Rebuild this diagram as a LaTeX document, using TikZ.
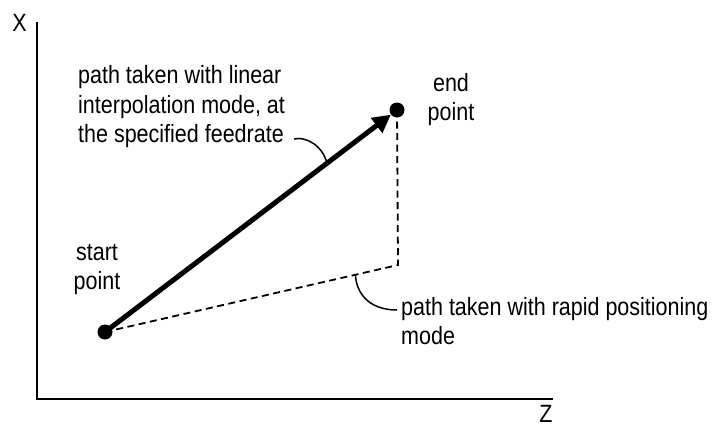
\documentclass[tikz,border=0pt]{standalone}
\usepackage{fontspec}
\setmainfont{Liberation Sans}[FakeStretch=0.86]
\usetikzlibrary{arrows.meta,calc}

\begin{document}
\begin{tikzpicture}[x=1pt,y=-1pt,
  ptdot/.style={circle,fill,inner sep=0pt,minimum size=15pt},
  txt/.style={font=\fontsize{25}{29.5}\selectfont,inner sep=0pt},
  leader/.style={line width=1.5pt}]
\useasboundingbox (0,0) rectangle (714,428);
\coordinate (xtop) at (37,22);
\coordinate (origin) at (37,399);
\coordinate (zend) at (553,399);
\draw[line width=2pt] (xtop) -- (origin) -- (zend);
\node[txt] (xlbl) at (19.5,22.5) {X};
\node[txt] (zlbl) at (546,414) {Z};
\node[ptdot] (start) at (105,332) {};
\node[ptdot] (end) at (397,110) {};
\coordinate (corner) at (398,265);
\draw[line width=1.8pt,dash pattern=on 7pt off 4.5pt] (start.center) -- (corner) -- (end.center);
\draw[line width=5pt,-{Triangle[length=18pt,width=18pt]}] (start.center) -- (end);
\node[txt,align=center,anchor=north] (startlbl) at (97,244) {start\\point};
\node[txt,align=center,anchor=north] (endlbl) at (451,73) {end\\point};
\node[txt,align=left,anchor=north west] (linlbl) at (78,65.5) {path taken with linear\\interpolation mode, at\\the specified feedrate};
\node[txt,align=left,anchor=north west] (rapidlbl) at (401,297) {path taken with rapid positioning\\mode};
\coordinate (linfrom) at (294,139);
\coordinate (linhit) at ($(start)!0.76!(end)$);
\coordinate (rapidhit) at ($(start)!0.855!(corner)$);
\coordinate (rapidto) at (397,310);
\draw[leader] (linfrom) .. controls (306,136) and (323,146) .. (linhit);
\draw[leader] (rapidhit) .. controls (356,292) and (368,310) .. (rapidto);
\end{tikzpicture}
\end{document}
